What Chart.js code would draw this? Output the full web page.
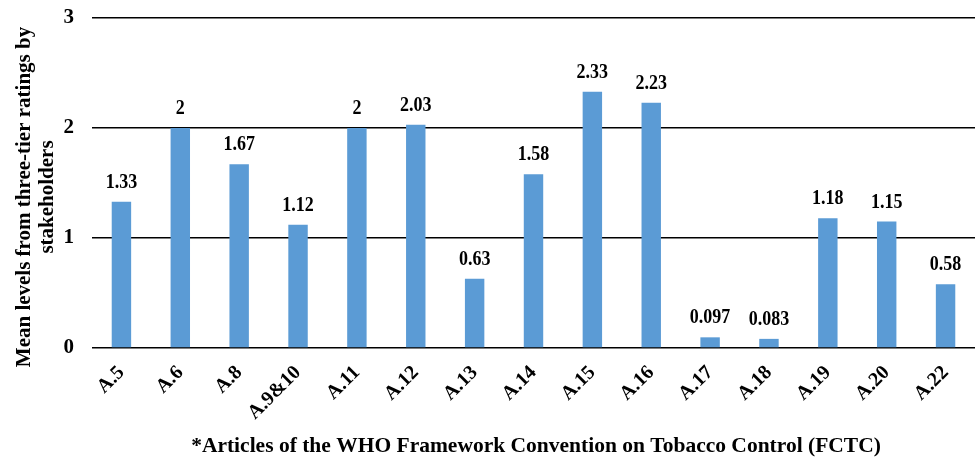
<!DOCTYPE html>
<html><head><meta charset="utf-8">
<script src="https://cdn.jsdelivr.net/npm/chart.js@4"></script>
<style>html,body{margin:0;padding:0;background:#fff;}#wrap{width:976px;height:459px;}</style>
</head><body><div id="wrap"><canvas id="c" width="976" height="459"></canvas></div>
<script>
const categories = ["A.5","A.6","A.8","A.9&10","A.11","A.12","A.13","A.14","A.15","A.16","A.17","A.18","A.19","A.20","A.22"];
const values = [1.33,2,1.67,1.12,2,2.03,0.63,1.58,2.33,2.23,0.097,0.083,1.18,1.15,0.58];
const yTicks = [0,1,2,3];
const yTitle = ["Mean levels from three-tier ratings by","stakeholders"];
const xTitle = "*Articles of the WHO Framework Convention on Tobacco Control (FCTC)";
const FONT = "'Liberation Serif','Times New Roman',serif";

const textPlugin = {
  id: 'texts',
  afterDatasetsDraw(chart) {
    const ctx = chart.ctx;
    const meta = chart.getDatasetMeta(0);
    ctx.save();
    ctx.fillStyle = "#000";
    ctx.font = "bold 18px " + FONT;
    ctx.textAlign = "center";
    ctx.textBaseline = "alphabetic";
    meta.data.forEach((bar, i) => {
      ctx.save();
      ctx.translate(bar.x, bar.y - 14);
      ctx.scale(1, 1.15);
      ctx.fillText(String(values[i]), 0, 0);
      ctx.restore();
    });
    ctx.font = "bold 21.5px " + FONT;
    ctx.fillText(xTitle, 536, 452);
    ctx.font = "bold 21px " + FONT;
    ctx.translate(0, 197);
    ctx.rotate(-Math.PI / 2);
    ctx.fillText(yTitle[0], 0, 30);
    ctx.fillText(yTitle[1], 0, 53);
    ctx.restore();
  }
};

new Chart(document.getElementById('c'), {
  type: 'bar',
  data: { labels: categories, datasets: [{ data: values, backgroundColor: '#5B9BD5', categoryPercentage: 1, barPercentage: 0.33 }] },
  options: {
    responsive: false, animation: false,
    layout: { padding: { top: 18, right: 1, left: 4, bottom: 0 } },
    plugins: { legend: { display: false }, tooltip: { enabled: false } },
    scales: {
      x: {
        grid: { display: false },
        border: { display: false },
        ticks: { color: '#000', font: { family: FONT, size: 20, weight: 'bold' }, minRotation: 45, maxRotation: 45, padding: 5 },
        afterFit(s) { s.height = 111; s.paddingLeft = 0; s.paddingRight = 0; }
      },
      y: {
        min: 0, max: 3,
        afterBuildTicks(s) { s.ticks = yTicks.map(v => ({ value: v })); },
        grid: { color: '#000', lineWidth: 1.4, drawTicks: false },
        border: { display: false },
        ticks: { color: '#000', font: { family: FONT, size: 21, weight: 'bold' }, padding: 18 },
        afterFit(s) { s.width = 88; s.paddingTop = 0; s.paddingBottom = 0; }
      }
    }
  },
  plugins: [textPlugin]
});
</script>
</body></html>
